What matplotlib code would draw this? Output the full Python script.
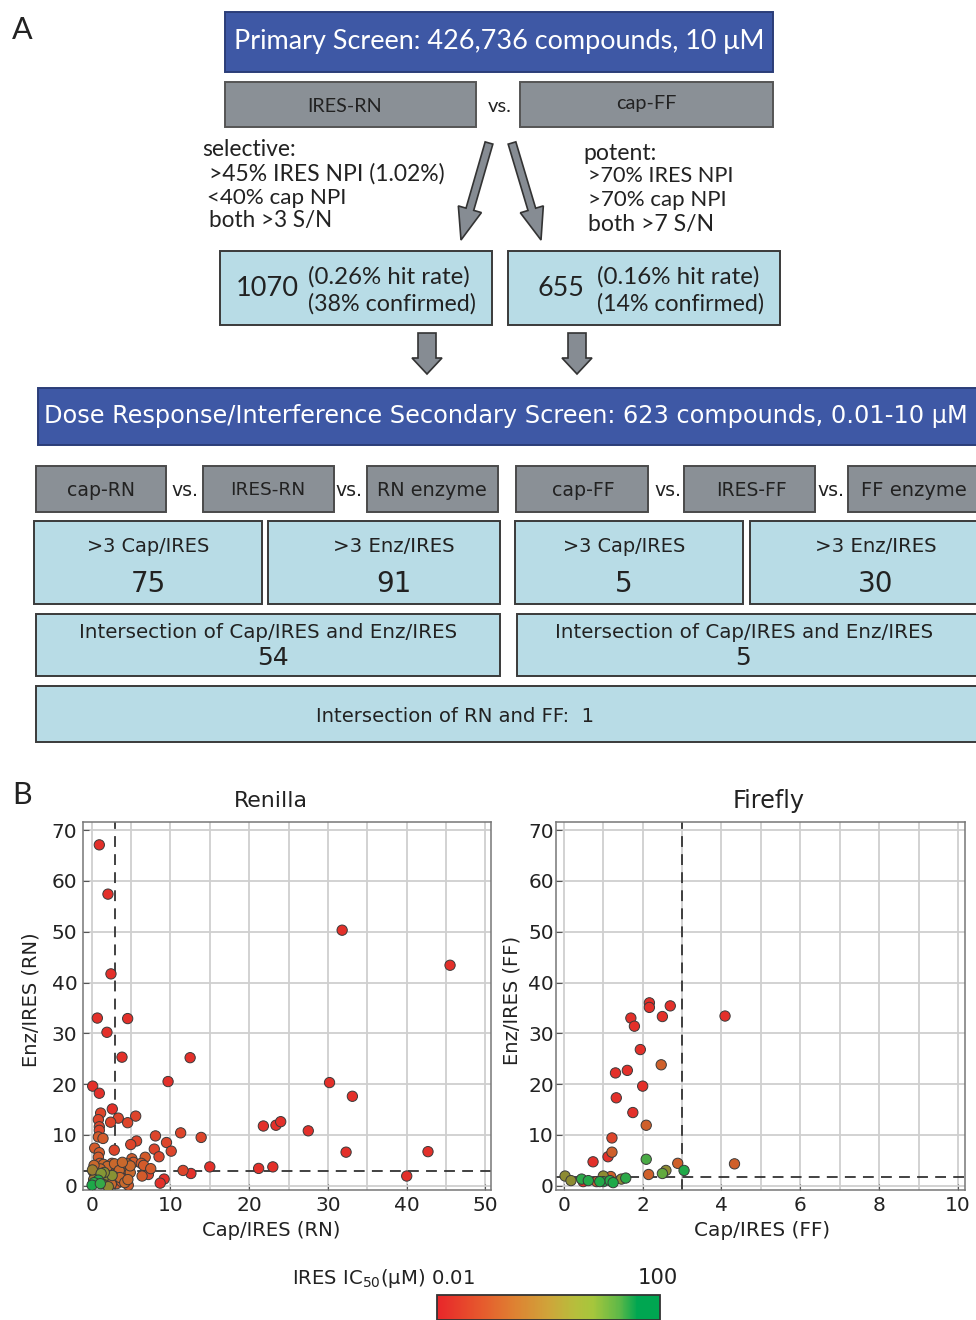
import matplotlib
matplotlib.use('Agg')
import matplotlib.pyplot as plt
import numpy as np
from matplotlib.patches import Rectangle, FancyArrow
from matplotlib.colors import LinearSegmentedColormap, LogNorm
import matplotlib.cm as cm

# ------------------------------------------------------------------ data
primary_label = "Primary Screen: 426,736 compounds, 10 \u03bcM"
secondary_label = "Dose Response/Interference Secondary Screen: 623 compounds, 0.01-10 \u03bcM"
selective_lines = ["selective:", ">45% IRES NPI (1.02%)", "<40% cap NPI", "both >3 S/N"]
potent_lines = ["potent:", ">70% IRES NPI", ">70% cap NPI", "both >7 S/N"]
hits = ["1070", "655"]
hit_rates = ["(0.26% hit rate)", "(0.16% hit rate)"]
confirmed = ["(38% confirmed)", "(14% confirmed)"]
assays = ["cap-RN", "IRES-RN", "RN enzyme", "cap-FF", "IRES-FF", "FF enzyme"]
ratio_labels = [">3 Cap/IRES", ">3 Enz/IRES", ">3 Cap/IRES", ">3 Enz/IRES"]
ratio_counts = ["75", "91", "5", "30"]
intersect_counts = ["54", "5"]
rn_ff_count = "1"

# Renilla: Cap/IRES, Enz/IRES, IRES IC50 (uM)
rn_x = [0.97, 2.07, 31.8, 45.5, 2.45, 0.72, 4.57, 1.94, 3.85, 12.5, 0.13, 0.97, 9.7, 30.2, 33.1,
        2.62, 21.8, 23.4, 24.0, 27.5, 32.3, 42.7, 15.0, 21.2, 23.0, 12.6, 40.0, 9.2, 8.7, 4.15, 4.44,
        1.14, 3.38, 5.59, 0.85, 2.41, 4.57, 0.97, 0.97, 11.3, 8.1, 13.9, 5.7, 4.96, 9.5, 2.87, 7.95,
        10.1, 8.55, 7.2, 11.6,
        0.85, 1.44, 0.38, 0.97, 0.85, 5.1, 6.8, 5.3, 6.3, 6.6, 2.58, 7.5, 6.4, 4.65, 1.05, 0.55,
        1.48, 3.6, 4.0, 2.75, 2.33, 3.17, 3.8, 3.0, 1.6, 0.2, 4.3, 3.3,
        1.5, 2.0, 2.9, 3.5, 4.5, 4.9, 0.6, 2.8, 3.6, 4.2, 1.8, 2.5, 4.9, 3.9, 1.1, 4.6, 0.3,
        1.05, 1.9, 0.42, 1.27, 2.11, 2.6, 1.6, 0.25, 0.1, 1.2,
        0.84, 0.3, 0.05, 1.1]
rn_y = [67.1, 57.4, 50.3, 43.4, 41.7, 33.0, 32.9, 30.2, 25.3, 25.2, 19.6, 18.2, 20.5, 20.3, 17.6,
        15.1, 11.75, 11.9, 12.6, 10.8, 6.6, 6.7, 3.7, 3.4, 3.7, 2.4, 1.9, 1.3, 0.5, 2.2, 1.8,
        14.3, 13.3, 13.7, 13.0, 12.5, 12.4, 11.6, 10.9, 10.4, 9.8, 9.5, 8.8, 8.1, 8.5, 7.0, 7.2,
        6.8, 5.7, 2.2, 3.0,
        9.6, 9.3, 7.4, 6.5, 5.6, 5.3, 5.6, 4.6, 4.4, 4.0, 4.4, 3.35, 1.9, 0.1, 4.4, 3.4,
        3.1, 4.1, 3.4, 3.1, 1.1, 0.4, 0.8, 2.5, 2.6, 2.8, 3.9, 3.7,
        4.2, 3.8, 4.3, 3.0, 4.3, 2.6, 2.6, 1.8, 1.6, 0.6, 0.8, 0.3, 3.9, 4.6, 3.3, 1.2, 4.0,
        2.1, 2.1, 1.8, 0.4, -0.2, 2.0, 2.6, 1.2, 3.1, 2.4,
        1.1, 0.6, 0.1, 0.4]
rn_ic50 = ([0.01] * 31 + [0.03] * 20 + [0.08] * 28 + [0.15] * 17 + [1.2, 1.8, 1.0, 1.5, 1.3, 2.0,
           1.6, 0.6, 0.8, 2.5] + [40, 30, 60, 20])

# Firefly
ff_x = [2.17, 2.17, 2.70, 1.70, 2.50, 4.09, 1.79, 1.94, 1.31, 1.61, 2.0, 1.33, 1.75, 1.12, 0.74, 0.49,
        1.22,
        2.47, 2.09, 1.22, 2.89, 4.33, 2.15, 0.83, 1.19,
        0.03, 0.18, 1.0, 1.46, 2.59,
        2.5, 2.09,
        3.05, 0.45, 0.62, 1.0, 1.17, 1.25, 1.57, 0.91]
ff_y = [36.0, 35.1, 35.4, 33.0, 33.3, 33.4, 31.4, 26.8, 22.2, 22.7, 19.6, 17.3, 14.4, 5.7, 4.7, 0.8,
        9.4,
        23.8, 11.9, 6.6, 4.4, 4.3, 2.2, 0.8, 1.8,
        1.9, 1.0, 1.9, 1.3, 3.0,
        2.4, 5.2,
        3.0, 1.3, 1.0, 0.8, 1.0, 0.6, 1.5, 0.8]
ff_ic50 = [0.01] * 16 + [0.03] + [0.1] * 8 + [1.5] * 5 + [8, 12] + [50, 30, 40, 60, 40, 60, 30, 50]

rn_threshold_x, rn_threshold_y = 3, 2.8
ff_threshold_x, ff_threshold_y = 3, 1.8

# ------------------------------------------------------------------ styles
W, H = 976, 1320
BLUE = '#3E58A5'
GRAY = '#8A9096'
LBLUE = '#B8DCE6'
TXT = '#222222'
NARROW = ['Lato', 'DejaVu Sans']
WIDE = ['DejaVu Sans']

bar_cmap = LinearSegmentedColormap.from_list('ic50', [
    (0.0, '#E8262A'), (0.2, '#E65A2D'), (0.35, '#DE8232'), (0.5, '#CFA43A'),
    (0.62, '#B6BE3C'), (0.7, '#A6C63C'), (0.82, '#5DB848'), (0.9, '#00A651'), (1.0, '#00A651')])
dot_cmap = LinearSegmentedColormap.from_list('ic50dots', [
    (0.0, '#E3302A'), (0.12, '#DD452B'), (0.22, '#D45A2B'), (0.3, '#C8692C'), (0.45, '#A07A30'),
    (0.55, '#8C8C32'), (0.68, '#7AA83A'), (0.8, '#3BAA48'), (1.0, '#12A84A')])
ic_norm = LogNorm(0.01, 100)

fig = plt.figure(figsize=(W / 100, H / 100), dpi=100)
ax0 = fig.add_axes([0, 0, 1, 1])
ax0.set_xlim(0, W)
ax0.set_ylim(H, 0)
ax0.axis('off')
renderer = fig.canvas.get_renderer()


def fit(x, y, s, width, family=WIDE, color=TXT, ha='center', va='center', **kw):
    t = ax0.text(x, y, s, fontsize=14, family=family, color=color, ha=ha, va=va, **kw)
    bb = t.get_window_extent(renderer=renderer)
    t.set_fontsize(14 * width / bb.width)
    return t


def box(x, y, w, h, fc, ec='#3a3a3a', lw=1.4):
    ax0.add_patch(Rectangle((x, y), w, h, facecolor=fc, edgecolor=ec, lw=lw, zorder=1))


# ------------------------------------------------------------------ panel A
ax0.text(12, 30, 'A', fontsize=22, family=NARROW, color=TXT, ha='left', va='center')
box(225, 12, 548, 60, BLUE, ec='#2b3d78')
fit(499, 42, primary_label, 533, family=NARROW, color='white')

box(225, 82, 251, 45, GRAY, ec='#555555')
box(520, 82, 253, 45, GRAY, ec='#555555')
fit(345, 106, "IRES-RN", 75, family=NARROW)
fit(646, 104, "cap-FF", 61, family=NARROW)
fit(500, 106, "vs.", 24, family=NARROW)

sel_pos = [(202, 150, 94), (209, 174, 236), (207, 198, 140), (209, 221, 124)]
for s, (x, y, w) in zip(selective_lines, sel_pos):
    fit(x, y, s, w, family=NARROW, ha='left')
pot_pos = [(583, 153, 73), (588, 176, 146), (588, 200, 139), (588, 224, 126)]
for s, (x, y, w) in zip(potent_lines, pot_pos):
    fit(x, y, s, w, family=NARROW, ha='left')

for (x0, y0, dx, dy) in [(489, 143, -28, 97), (512, 143, 29, 97)]:
    ax0.add_patch(FancyArrow(x0, y0, dx, dy, width=8, head_width=24, head_length=32,
                             length_includes_head=True, fc='#868C93', ec='#333333', lw=1.2, zorder=2))

box(220, 251, 272, 74, LBLUE)
box(508, 251, 272, 74, LBLUE)
fit(267, 288, hits[0], 63, family=NARROW)
fit(308, 277, hit_rates[0], 162, family=NARROW, ha='left')
fit(308, 304, confirmed[0], 169, family=NARROW, ha='left')
fit(561, 289, hits[1], 47, family=NARROW)
fit(597, 277, hit_rates[1], 163, family=NARROW, ha='left')
fit(597, 304, confirmed[1], 168, family=NARROW, ha='left')

for xc in [427, 577]:
    ax0.add_patch(FancyArrow(xc, 333, 0, 41, width=18, head_width=30, head_length=16,
                             length_includes_head=True, fc='#868C93', ec='#333333', lw=1.2, zorder=2))

box(38, 388, 945, 57, BLUE, ec='#2b3d78')
fit(506, 416, secondary_label, 923, color='white')

gray_boxes = [(36, 130), (203, 131), (367, 131), (516, 132), (684, 131), (848, 140)]
assay_pos = [(101, 68), (268, 75), (432, 110), (583, 63), (751, 71), (914, 106)]
for (gx, gw), s, (tx, tw) in zip(gray_boxes, assays, assay_pos):
    box(gx, 466, gw, 46, GRAY, ec='#4a4a4a')
    fit(tx, 490, s, tw)
for vx in [185, 349, 668, 831]:
    fit(vx, 491, "vs.", 27)

ratio_boxes = [(34, 228), (268, 232), (515, 228), (750, 240)]
ratio_txt = [(148, 123), (394, 122), (624, 123), (876, 122)]
for (bx, bw), lab, cnt, (tx, tw) in zip(ratio_boxes, ratio_labels, ratio_counts, ratio_txt):
    box(bx, 521, bw, 83, LBLUE)
    fit(tx, 547, lab, tw)
    ax0.text(tx, 584, cnt, fontsize=20, family=WIDE, color=TXT, ha='center', va='center')

box(36, 614, 464, 62, LBLUE)
box(517, 614, 470, 62, LBLUE)
fit(268, 632, "Intersection of Cap/IRES and Enz/IRES", 378)
fit(744, 632, "Intersection of Cap/IRES and Enz/IRES", 378)
ax0.text(273, 658, intersect_counts[0], fontsize=18, family=WIDE, color=TXT, ha='center', va='center')
ax0.text(743, 658, intersect_counts[1], fontsize=18, family=WIDE, color=TXT, ha='center', va='center')

box(36, 686, 950, 56, LBLUE)
fit(455, 716, "Intersection of RN and FF:  " + rn_ff_count, 279)

# ------------------------------------------------------------------ panel B
ax0.text(12, 795, 'B', fontsize=22, family=NARROW, color=TXT, ha='left', va='center')


def px_axes(l, r, t, b):
    return fig.add_axes([l / W, (H - b) / H, (r - l) / W, (b - t) / H])


def style(ax, xmaj, xmin, pad):
    ax.set_yticks(np.arange(0, 71, 10))
    ax.set_xticks(xmaj)
    ax.set_xticks(xmin, minor=True)
    ax.grid(which='both', axis='x', color='#cfcfcf', lw=1.3, zorder=0)
    ax.grid(which='major', axis='y', color='#cfcfcf', lw=1.3, zorder=0)
    ax.set_axisbelow(True)
    ax.tick_params(which='major', direction='in', length=4, color='#555555',
                   labelsize=14.5, labelcolor=TXT, pad=pad)
    ax.tick_params(axis='x', pad=4)
    ax.tick_params(which='minor', length=0)
    for sp in ax.spines.values():
        sp.set_color('#777777')
        sp.set_linewidth(1.1)


axr = px_axes(83, 491, 822, 1190)
axr.set_xlim(-1.1, 50.7)
axr.set_ylim(-0.85, 71.6)
style(axr, np.arange(0, 51, 10), np.arange(0, 51, 5), 4)
axr.axvline(rn_threshold_x, color='#333333', lw=1.3, ls=(0, (6, 4)), zorder=2)
axr.axhline(rn_threshold_y, color='#333333', lw=1.3, ls=(0, (6, 4)), zorder=2)
axr.scatter(rn_x, rn_y, c=rn_ic50, cmap=dot_cmap, norm=ic_norm, s=55,
            edgecolors='#3a3a3a', linewidths=0.7, zorder=3)

axf = px_axes(556, 965, 822, 1190)
axf.set_xlim(-0.2, 10.18)
axf.set_ylim(-0.85, 71.6)
style(axf, np.arange(0, 11, 2), np.arange(0, 11, 1), 1.5)
axf.axvline(ff_threshold_x, color='#333333', lw=1.3, ls=(0, (6, 4)), zorder=2)
axf.axhline(ff_threshold_y, color='#333333', lw=1.3, ls=(0, (6, 4)), zorder=2)
axf.scatter(ff_x, ff_y, c=ff_ic50, cmap=dot_cmap, norm=ic_norm, s=55,
            edgecolors='#3a3a3a', linewidths=0.7, zorder=3)

fit(271, 801, "Renilla", 74)
fit(769, 801, "Firefly", 73)
fit(271, 1230, "Cap/IRES (RN)", 139)
fit(762, 1230, "Cap/IRES (FF)", 136)
ax0.text(31, 1000, "Enz/IRES (RN)", fontsize=14, family=WIDE, color=TXT, rotation=90,
         ha='center', va='center')
ax0.text(512, 1000, "Enz/IRES (FF)", fontsize=14, family=WIDE, color=TXT, rotation=90,
         ha='center', va='center')

# colour bar
fit(475, 1278, "IRES IC$_{50}$(\u03bcM) 0.01", 184, ha='right')
fit(678, 1278, "100", 40, ha='right')
cax = fig.add_axes([437 / W, 0, (660 - 437) / W, 25 / H])
cb = fig.colorbar(cm.ScalarMappable(norm=ic_norm, cmap=bar_cmap), cax=cax, orientation='horizontal')
cax.xaxis.set_ticks([])
cax.xaxis.set_ticks([], minor=True)
cb.outline.set_edgecolor('#333333')
cb.outline.set_linewidth(1.3)

fig.savefig('out.png', dpi=100)
